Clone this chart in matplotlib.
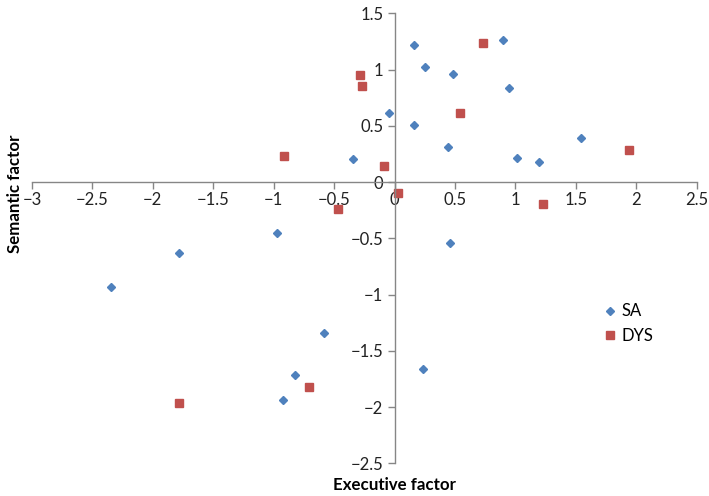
import matplotlib
matplotlib.use("Agg")
import matplotlib.pyplot as plt

plt.rcParams['font.family'] = ['Lato', 'DejaVu Sans']

sa_x = [0.164, 0.895, 0.255, 0.481, 0.950, -0.048, 0.161, 0.443, 1.543, 1.016, 1.198,
        -0.346, 0.459, -0.972, -1.786, -2.348, -0.586, -0.826, -0.925, 0.238]
sa_y = [1.218, 1.262, 1.025, 0.960, 0.836, 0.610, 0.504, 0.314, 0.391, 0.210, 0.178,
        0.207, -0.539, -0.450, -0.628, -0.936, -1.345, -1.718, -1.935, -1.659]

dys_x = [0.732, -0.283, -0.266, 0.545, 1.940, -0.084, 0.031, 1.231, -0.912, -0.465, -1.786, -0.707]
dys_y = [1.238, 0.951, 0.853, 0.616, 0.282, 0.140, -0.100, -0.196, 0.234, -0.243, -1.964, -1.819]

x_ticks = [-3, -2.5, -2, -1.5, -1, -0.5, 0, 0.5, 1, 1.5, 2, 2.5]
y_ticks = [-2.5, -2, -1.5, -1, -0.5, 0, 0.5, 1, 1.5]

fig = plt.figure(figsize=(7.09, 4.96), dpi=100)
ax = fig.add_axes([0.0451, 0.0659, 0.9375, 0.9073])

ax.plot(sa_x, sa_y, linestyle='none', marker='D', markersize=3.8, color='#4F81BD', label='SA')
ax.plot(dys_x, dys_y, linestyle='none', marker='s', markersize=5.5, color='#C0504D', label='DYS')

ax.set_xlim(-3, 2.5)
ax.set_ylim(-2.5, 1.5)
ax.spines['left'].set_position(('data', 0))
ax.spines['bottom'].set_position(('data', 0))
ax.spines['top'].set_visible(False)
ax.spines['right'].set_visible(False)
for s in ['left', 'bottom']:
    ax.spines[s].set_color('#868686')
    ax.spines[s].set_linewidth(1.0)

ax.set_xticks(x_ticks)
ax.set_yticks(y_ticks)
ax.set_xticklabels([('\u2212' + f'{abs(v):g}') if v < 0 else f'{v:g}' for v in x_ticks])
ax.set_yticklabels([('\u2212' + f'{abs(v):g}') if v < 0 else f'{v:g}' for v in y_ticks])
ax.tick_params(axis='both', direction='out', length=5, width=1.0, color='#868686',
               labelsize=12, labelcolor='#222222')
ax.tick_params(axis='x', pad=2)
ax.tick_params(axis='y', pad=3)

fig.text(0.021, 0.61, 'Semantic factor', rotation=90, ha='center', va='center',
         fontsize=12.2, fontweight='bold')
fig.text(0.556, 0.022, 'Executive factor', ha='center', va='center',
         fontsize=12.2, fontweight='bold')

leg = ax.legend(loc='upper left', bbox_to_anchor=(0.852, 0.37), frameon=False,
                fontsize=12, handlelength=0.6, handletextpad=0.4, labelspacing=0.5,
                borderaxespad=0)

fig.savefig('out.png', dpi=100)
